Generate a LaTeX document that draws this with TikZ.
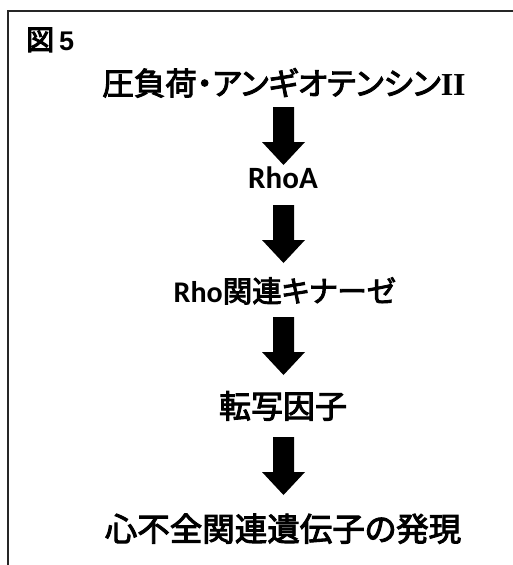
\documentclass[tikz,border=0pt]{standalone}
\usepackage{fontspec}
\newfontfamily\jp{Noto Sans CJK JP}[RawFeature=+palt, FakeBold=3]
\newfontfamily\jpb{Noto Sans CJK JP}[FakeBold=4]
\newfontfamily\lat{Carlito}
\newfontfamily\ser{Liberation Serif}
\newfontfamily\num{Liberation Sans}
\begin{document}
\begin{tikzpicture}[x=1pt,y=1pt,
  txt/.style={anchor=base, inner sep=0pt, text=black},
  frameline/.style={line width=1.6pt, draw=black!85},
  blockfill/.style={fill=black}]
\useasboundingbox (0,0) rectangle (513,-565);
\draw[frameline] (8,-565) -- (8,-11) -- (513,-11);

\newcommand\blockarrow[2]{%
  \fill[blockfill] ([xshift=-10.5pt]#1) -- ([xshift=10.5pt]#1) -- ([xshift=10.5pt,yshift=23pt]#2) -- ([xshift=21.5pt,yshift=23pt]#2) -- (#2) -- ([xshift=-21.5pt,yshift=23pt]#2) -- ([xshift=-10.5pt,yshift=23pt]#2) -- cycle;}

\node[txt, anchor=base west, font=\jpb\fontsize{28}{28}\selectfont] (fig) at (26,-50) {図\hspace{5pt}{\num\bfseries\fontsize{27}{27}\selectfont 5}};
\node[txt, font=\jp\fontsize{31.5}{31.5}\selectfont] (t1) at (284,-95) {圧負荷・アンギオテンシン{\ser\bfseries\fontsize{32}{32}\selectfont II}};
\node[txt, font=\lat\bfseries\fontsize{31}{31}\selectfont] (t2) at (283,-188) {RhoA};
\node[txt, font=\jp\fontsize{29.5}{29.5}\selectfont] (t3) at (284.5,-302) {{\lat\bfseries\fontsize{30}{30}\selectfont Rho}関連キナーゼ};
\node[txt, font=\jp\fontsize{32}{32}\selectfont] (t4) at (283,-418) {転写因子};
\node[txt, font=\jp\fontsize{32.5}{32.5}\selectfont] (t5) at (283,-541) {心不全関連遺伝子の発現};

\coordinate (a1s) at (283.5,-107);
\coordinate (a1e) at (283.5,-165);
\coordinate (a2s) at (283.5,-205);
\coordinate (a2e) at (283.5,-263);
\coordinate (a3s) at (283.5,-317);
\coordinate (a3e) at (283.5,-375);
\coordinate (a4s) at (283.5,-437);
\coordinate (a4e) at (283.5,-495);
\blockarrow{a1s}{a1e}
\blockarrow{a2s}{a2e}
\blockarrow{a3s}{a3e}
\blockarrow{a4s}{a4e}
\end{tikzpicture}
\end{document}
